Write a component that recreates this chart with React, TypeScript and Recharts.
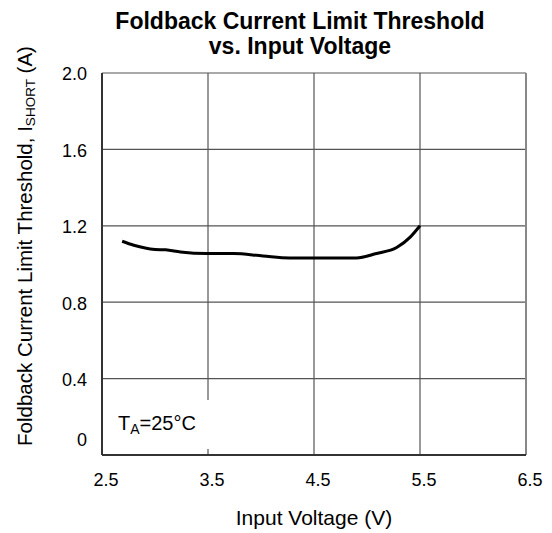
import React from 'react'
import {
  LineChart,
  Line,
  XAxis,
  YAxis,
  CartesianGrid,
  ReferenceLine,
} from 'recharts'

// Input voltage (V) and foldback current limit threshold (A)
const voltages = [2.69, 2.8, 3.0, 3.1, 3.24, 3.49, 3.74, 4.02, 4.27, 4.5, 4.9, 5.09, 5.28, 5.41, 5.5]
const currents = [1.119, 1.098, 1.076, 1.074, 1.063, 1.055, 1.055, 1.042, 1.032, 1.032, 1.032, 1.055, 1.086, 1.142, 1.2]

const xTicks = [2.5, 3.5, 4.5, 5.5, 6.5]
const yTicks = [0, 0.4, 0.8, 1.2, 1.6, 2.0]

const titleLines = ['Foldback Current Limit Threshold', 'vs. Input Voltage']

const FONT = '"Liberation Sans", Arial, Helvetica, sans-serif'

const data = voltages.map((v, i) => ({ v, i: currents[i] }))

function XTick(props: any) {
  const { x, y, payload } = props
  return (
    <text x={x + 4} y={y + 25} dy="0.35em" textAnchor="middle" fontSize={18} fill="#000" fontFamily={FONT}>
      {payload.value.toFixed(1)}
    </text>
  )
}

function YTick(props: any) {
  const { x, y, payload } = props
  const v = payload.value
  // the zero label sits above the axis in the original
  const shift = v === 0 ? -15 : 1
  return (
    <text x={x} y={y + shift} dy="0.35em" textAnchor="end" fontSize={18} fill="#000" fontFamily={FONT}>
      {v === 0 ? '0' : v.toFixed(1)}
    </text>
  )
}

function YTitle(props: any) {
  const vb = props.viewBox
  const cx = vb.x + 25
  const cy = vb.y + vb.height / 2 - 18
  return (
    <text
      x={cx}
      y={cy}
      dy="0.35em"
      textAnchor="middle"
      transform={`rotate(-90, ${cx}, ${cy})`}
      fontSize={20.5}
      fill="#000"
      fontFamily={FONT}
    >
      Foldback Current Limit Threshold, I
      <tspan fontSize={13.5} dy={3}>SHORT</tspan>
      <tspan dy={-3}> (A)</tspan>
    </text>
  )
}

function XTitle(props: any) {
  const vb = props.viewBox
  return (
    <text
      x={vb.x + vb.width / 2}
      y={518}
      dy="0.35em"
      textAnchor="middle"
      fontSize={21}
      fill="#000"
      fontFamily={FONT}
    >
      Input Voltage (V)
    </text>
  )
}

export default function App() {
  return (
    <div
      style={{
        position: 'absolute',
        left: 0,
        top: 0,
        width: 552,
        height: 533,
        background: '#fff',
        fontFamily: FONT,
      }}
    >
      <div
        style={{
          position: 'absolute',
          left: 0,
          top: 9,
          width: 600,
          textAlign: 'center',
          fontWeight: 'bold',
          fontSize: 23,
          lineHeight: '25px',
          color: '#000',
        }}
      >
        {titleLines.map((t) => (
          <div key={t}>{t}</div>
        ))}
      </div>
      <div style={{ position: 'absolute', left: 0, top: 0 }}>
        <LineChart width={552} height={533} data={data} margin={{ top: 73, right: 26, bottom: 0, left: 0 }}>
          <CartesianGrid stroke="#555" strokeWidth={1.2} />
          <XAxis
            dataKey="v"
            type="number"
            domain={[2.5, 6.5]}
            ticks={xTicks}
            height={78}
            tickLine={false}
            tickSize={0}
            tickMargin={0}
            axisLine={{ stroke: '#333', strokeWidth: 2 }}
            tick={<XTick />}
            label={<XTitle />}
          />
          <YAxis
            type="number"
            domain={[0, 2]}
            ticks={yTicks}
            width={102}
            tickLine={false}
            tickSize={0}
            tickMargin={15}
            axisLine={{ stroke: '#333', strokeWidth: 2 }}
            tick={<YTick />}
            label={<YTitle />}
          />
          <ReferenceLine x={6.5} stroke="#888" strokeWidth={2} />
          <Line
            dataKey="i"
            type="monotone"
            stroke="#000"
            strokeWidth={3}
            dot={false}
            isAnimationActive={false}
          />
        </LineChart>
      </div>
      <div
        style={{
          position: 'absolute',
          left: 104,
          top: 400,
          width: 108,
          height: 49,
          background: '#fff',
        }}
      />
      <div
        style={{
          position: 'absolute',
          left: 118,
          top: 411,
          fontSize: 20,
          lineHeight: '24px',
          color: '#000',
          whiteSpace: 'nowrap',
        }}
      >
        T<span style={{ fontSize: 14, position: 'relative', top: 4 }}>A</span>=25°C
      </div>
    </div>
  )
}
